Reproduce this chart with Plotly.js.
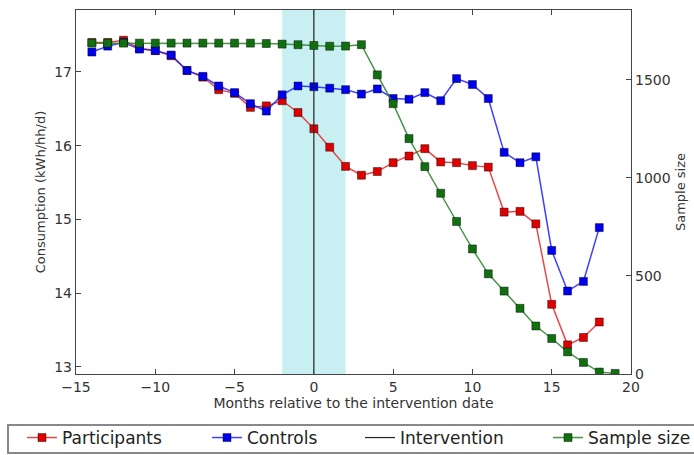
<!DOCTYPE html>
<html>
<head>
<meta charset="utf-8">
<script src="https://cdn.plot.ly/plotly-3.0.1.min.js"></script>
<style>html,body{margin:0;padding:0;background:#fff;}#chart{width:694px;height:455px;}</style>
</head>
<body>
<div id="chart"></div>
<script>
const months = [-14,-13,-12,-11,-10,-9,-8,-7,-6,-5,-4,-3,-2,-1,0,1,2,3,4,5,6,7,8,9,10,11,12,13,14,15,16,17,18];
const participants = [17.40,17.40,17.43,17.32,17.29,17.22,17.02,16.93,16.76,16.71,16.52,16.54,16.61,16.45,16.23,15.98,15.72,15.60,15.65,15.77,15.86,15.96,15.78,15.77,15.73,15.71,15.10,15.11,14.94,13.85,13.30,13.40,13.61];
const controls = [17.27,17.35,17.40,17.31,17.29,17.23,17.02,16.94,16.81,16.72,16.57,16.47,16.69,16.81,16.80,16.78,16.76,16.70,16.77,16.64,16.63,16.72,16.61,16.91,16.83,16.64,15.91,15.77,15.85,14.58,14.03,14.16,14.89];
const sampleMonths = [-14,-13,-12,-11,-10,-9,-8,-7,-6,-5,-4,-3,-2,-1,0,1,2,3,4,5,6,7,8,9,10,11,12,13,14,15,16,17,18,19];
const sampleSize = [1688,1688,1688,1688,1688,1688,1688,1688,1688,1688,1688,1686,1683,1680,1676,1672,1673,1680,1526,1379,1201,1058,922,778,638,511,423,335,245,181,113,59,10,3];
const interventionMonth = 0;
const windowStart = -2, windowEnd = 2;
const yRange = [12.905, 17.84];
const y2Range = [0, 1857];

const W = 694, H = 455;
const M = {l:76, r:63, t:10, b:81};
const plotW = W - M.l - M.r, plotH = H - M.t - M.b;
const px2x = (px) => (px - M.l) / plotW;
const py2y = (py) => (H - M.b - py) / plotH;

const font = 'DejaVu Sans, sans-serif';
const mk = (fill) => ({symbol:'square', size:8, color:fill, line:{color:'rgba(0,0,0,0.55)', width:0.8}});

const traces = [
  {x: months, y: participants, name:'Participants', mode:'lines+markers', legend:'legend',
   line:{color:'rgba(230,40,40,0.85)', width:1.5}, marker: mk('#e00000')},
  {x: months, y: controls, name:'Controls', mode:'lines+markers', legend:'legend2',
   line:{color:'rgba(30,30,255,0.85)', width:1.5}, marker: mk('#0000f0')},
  {x: [interventionMonth, interventionMonth], y: yRange, name:'Intervention', mode:'lines', legend:'legend3',
   line:{color:'#222', width:1.2}},
  {x: sampleMonths, y: sampleSize, name:'Sample size', mode:'lines+markers', yaxis:'y2', legend:'legend4',
   line:{color:'rgba(40,130,40,0.85)', width:1.5}, marker: mk('#107010')}
];

const axFont = {family:font, size:14, color:'#333'};
const legFont = {family:font, size:17, color:'#222'};
const legendAt = (textPx) => ({orientation:'h', x:px2x(textPx - 40), xanchor:'left', y:py2y(438), yanchor:'middle',
  borderwidth:0, bgcolor:'rgba(0,0,0,0)', font:legFont});

const layout = {
  width:W, height:H,
  margin:{l:M.l, r:M.r, t:M.t, b:M.b, autoexpand:false},
  paper_bgcolor:'#fff', plot_bgcolor:'#fff',
  font:{family:font, size:14, color:'#333'},
  showlegend:true,
  legend:legendAt(62), legend2:legendAt(247), legend3:legendAt(400), legend4:legendAt(588),
  xaxis:{range:[-15,20], tickvals:[-15,-10,-5,0,5,10,15,20], ticks:'inside', ticklen:5, tickcolor:'#444',
         showline:true, linecolor:'#444', linewidth:1.2, mirror:'ticks', showgrid:false, zeroline:false,
         title:{text:'Months relative to the intervention date', font:axFont, standoff:2},
         tickfont:axFont},
  yaxis:{range:yRange, tickvals:[13,14,15,16,17], ticks:'inside', ticklen:5, tickcolor:'#444',
         showline:true, linecolor:'#444', linewidth:1.2, showgrid:false, zeroline:false,
         title:{text:'Consumption (kWh/hh/d)', font:{family:font, size:13, color:'#333'}, standoff:5},
         tickfont:axFont},
  yaxis2:{range:y2Range, overlaying:'y', side:'right', tickvals:[0,500,1000,1500], ticks:'inside', ticklen:5, tickcolor:'#444',
          showline:true, linecolor:'#444', linewidth:1.2, showgrid:false, zeroline:false,
          title:{text:'Sample size', font:{family:font, size:13, color:'#333'}, standoff:6},
          tickfont:axFont},
  shapes:[
    {type:'rect', xref:'x', yref:'paper', x0:windowStart, x1:windowEnd, y0:0, y1:1,
     fillcolor:'#c8f0f2', line:{width:0}, layer:'below'},
    {type:'rect', xref:'paper', yref:'paper', x0:px2x(8), x1:px2x(720), y0:py2y(453), y1:py2y(425),
     fillcolor:'rgba(0,0,0,0)', line:{color:'#888', width:2}, layer:'below'}
  ]
};

Plotly.newPlot('chart', traces, layout, {displayModeBar:false, staticPlot:true});
</script>
</body>
</html>
